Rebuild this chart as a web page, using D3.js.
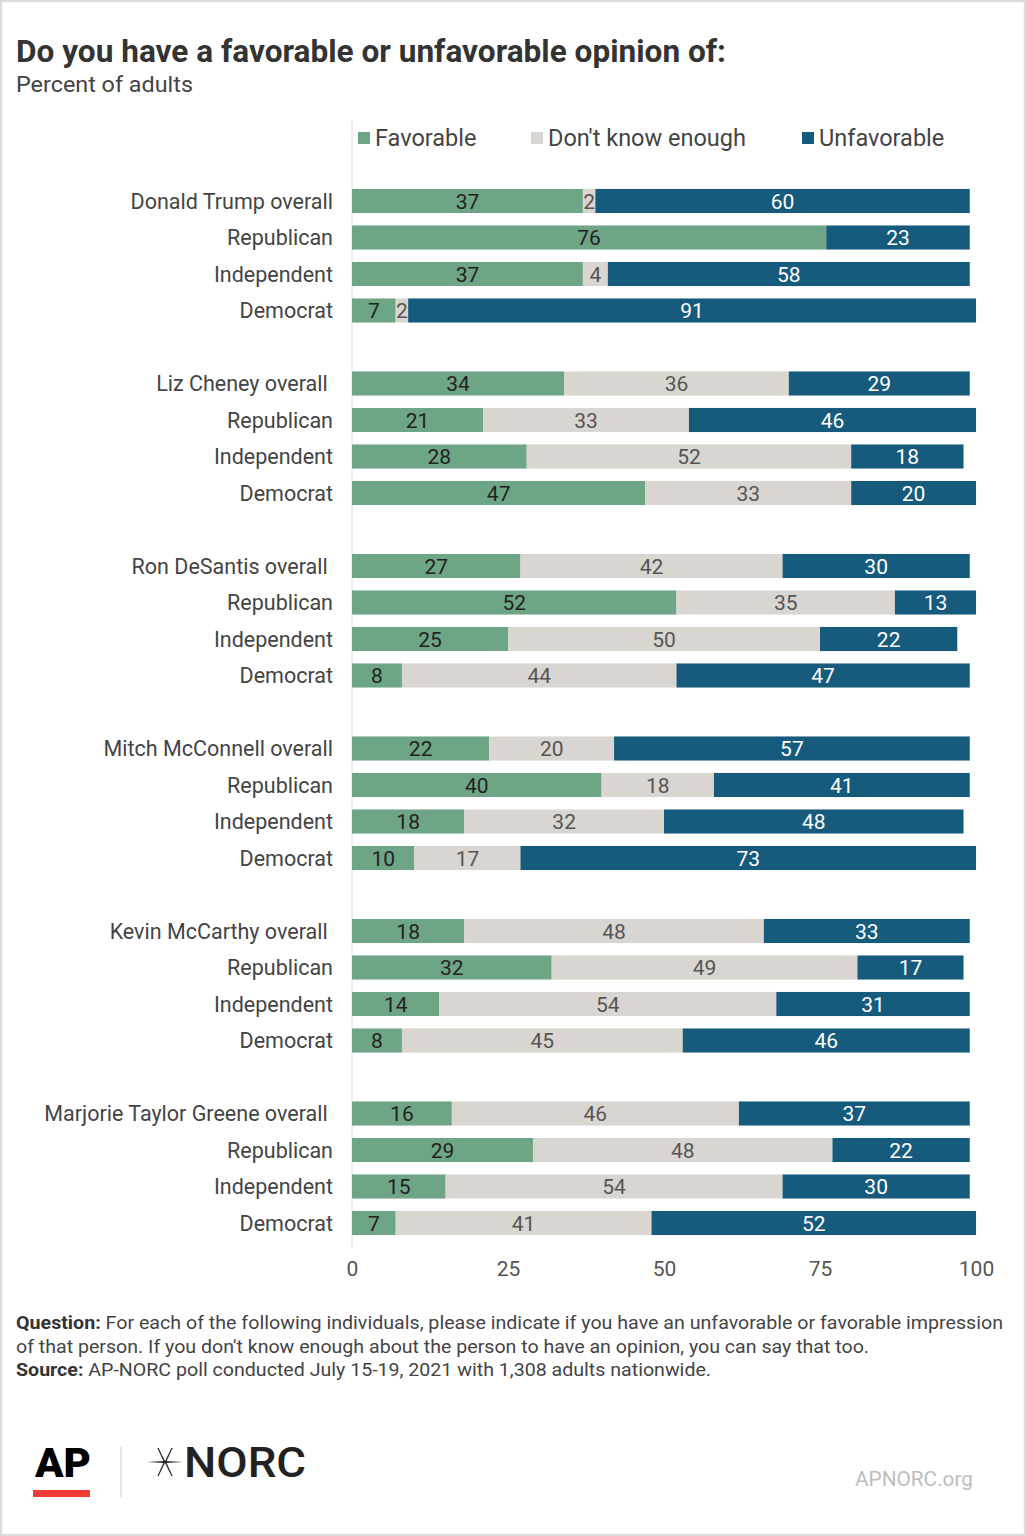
<!DOCTYPE html>
<html><head><meta charset="utf-8">
<script src="https://cdn.jsdelivr.net/npm/d3@7"></script>
<style>
html,body{margin:0;padding:0;background:#fff;}
svg{display:block;font-family:Roboto,"Noto Sans",sans-serif;}
</style></head>
<body>
<svg id="chart" width="1026" height="1536"></svg>
<script>
const people = ["Donald Trump", "Liz Cheney", "Ron DeSantis", "Mitch McConnell", "Kevin McCarthy", "Marjorie Taylor Greene"];
const rowLabels = [
  "Donald Trump overall", "Republican", "Independent", "Democrat",
  "Liz Cheney overall\u00a0", "Republican", "Independent", "Democrat",
  "Ron DeSantis overall\u00a0", "Republican", "Independent", "Democrat",
  "Mitch McConnell overall", "Republican", "Independent", "Democrat",
  "Kevin McCarthy overall\u00a0", "Republican", "Independent", "Democrat",
  "Marjorie Taylor Greene overall\u00a0", "Republican", "Independent", "Democrat"
];
const favorable   = [37,76,37,7, 34,21,28,47, 27,52,25,8, 22,40,18,10, 18,32,14,8, 16,29,15,7];
const dontKnow    = [2,0,4,2,    36,33,52,33, 42,35,50,44, 20,18,32,17, 48,49,54,45, 46,48,54,41];
const unfavorable = [60,23,58,91, 29,46,18,20, 30,13,22,47, 57,41,48,73, 33,17,31,46, 37,22,30,52];
const seriesNames = ["Favorable", "Don't know enough", "Unfavorable"];
const seriesColors = ["#6ea586", "#d9d5d0", "#175b7c"];
const labelColors = ["#222222", "#555555", "#ffffff"];
const xTicks = [0, 25, 50, 75, 100];

const svg = d3.select("#chart");
const W = 1026, H = 1536;

// frame
svg.append("rect").attr("x",1).attr("y",1).attr("width",W-2).attr("height",H-2)
  .attr("fill","#fff").attr("stroke","#dcdcdc").attr("stroke-width",2.5);

// title
svg.append("text").attr("x",16).attr("y",62).attr("font-size",31).attr("font-weight",700)
  .attr("fill","#333").attr("textLength",710).attr("lengthAdjust","spacingAndGlyphs")
  .text("Do you have a favorable or unfavorable opinion of:");
svg.append("text").attr("x",16).attr("y",92).attr("font-size",22).attr("fill","#444")
  .attr("textLength",177).attr("lengthAdjust","spacingAndGlyphs")
  .text("Percent of adults");

// rows with spacers
const ids = [];
const rows = [];
rowLabels.forEach((lab, i) => {
  const g = Math.floor(i / 4);
  if (i > 0 && i % 4 === 0) ids.push("gap" + g);
  const id = "r" + i;
  ids.push(id);
  rows.push({id, label: lab, vals: [favorable[i], dontKnow[i], unfavorable[i]], overall: i % 4 === 0});
});

const x = d3.scaleLinear().domain([0, 100]).range([352, 976]);
const step = 36.5;
const y = d3.scaleBand().domain(ids).range([182.75, 182.75 + ids.length * step])
  .paddingInner(0.34).paddingOuter(0.17);

// zero line
svg.append("line").attr("x1",x(0)).attr("x2",x(0)).attr("y1",120).attr("y2",1248)
  .attr("stroke","#e2e2e2").attr("stroke-width",1.2);

// legend
const legX = [358, 531, 802];
const lg = svg.append("g");
seriesNames.forEach((n, i) => {
  lg.append("rect").attr("x", legX[i]).attr("y", 132).attr("width", 12).attr("height", 12).attr("fill", seriesColors[i]);
  lg.append("text").attr("x", legX[i] + 17).attr("y", 146).attr("font-size", 23.5).attr("fill", "#444").text(n);
});

// stacked bars
const stack = d3.stack().keys([0,1,2]).value((d, k) => d.vals[k]);
const stacked = stack(rows);
const barG = svg.append("g");
stacked.forEach((layer, k) => {
  barG.selectAll(null).data(layer).enter().append("rect")
    .attr("x", d => x(d[0]))
    .attr("y", d => y(d.data.id))
    .attr("width", d => x(d[1]) - x(d[0]))
    .attr("height", y.bandwidth())
    .attr("fill", seriesColors[k]);
  barG.selectAll(null).data(layer.filter(d => d.data.vals[k] > 0)).enter().append("text")
    .attr("x", d => (x(d[0]) + x(d[1])) / 2)
    .attr("y", d => y(d.data.id) + y.bandwidth() / 2 + 7.5)
    .attr("text-anchor", "middle")
    .attr("font-size", 21)
    .attr("fill", labelColors[k])
    .text(d => d.data.vals[k]);
});

// row labels
svg.append("g").selectAll("text").data(rows).enter().append("text")
  .attr("x", 333)
  .attr("y", d => y(d.id) + y.bandwidth() / 2 + 7.5)
  .attr("text-anchor", "end")
  .attr("font-size", 21.5)
  .attr("fill", "#444")
  .style("white-space", "pre")
  .text(d => d.label);

// x axis
const axis = d3.axisBottom(x).tickValues(xTicks).tickSize(0).tickPadding(0);
const ag = svg.append("g").attr("transform", "translate(0,1261)").call(axis);
ag.select(".domain").remove();
ag.selectAll("text").attr("font-size", 21).attr("fill", "#555").attr("font-family", "Roboto, sans-serif").attr("dy", "0.72em");

// footer notes
const f1 = svg.append("text").attr("x",16).attr("y",1329).attr("font-size",18).attr("fill","#444")
  .attr("textLength",987).attr("lengthAdjust","spacingAndGlyphs");
f1.append("tspan").attr("font-weight",700).attr("fill","#333").text("Question:");
f1.append("tspan").text(" For each of the following individuals, please indicate if you have an unfavorable or favorable impression");
svg.append("text").attr("x",16).attr("y",1353).attr("font-size",18).attr("fill","#444")
  .attr("textLength",853).attr("lengthAdjust","spacingAndGlyphs")
  .text("of that person. If you don't know enough about the person to have an opinion, you can say that too.");
const f3 = svg.append("text").attr("x",16).attr("y",1376).attr("font-size",18).attr("fill","#444")
  .attr("textLength",695).attr("lengthAdjust","spacingAndGlyphs");
f3.append("tspan").attr("font-weight",700).attr("fill","#333").text("Source:");
f3.append("tspan").text(" AP-NORC poll conducted July 15-19, 2021 with 1,308 adults nationwide.");

// logos
svg.append("text").attr("x",35).attr("y",1477).attr("font-size",40).attr("font-weight",900)
  .attr("fill","#000").attr("textLength",56).attr("lengthAdjust","spacingAndGlyphs").text("AP");
svg.append("rect").attr("x",33).attr("y",1490).attr("width",57).attr("height",7).attr("fill","#f23a35");
svg.append("line").attr("x1",121).attr("x2",121).attr("y1",1447).attr("y2",1497).attr("stroke","#ddd").attr("stroke-width",1.5);
// star
const sx = 165, sy = 1462;
const star = svg.append("g").attr("fill","#222");
star.append("path").attr("d", `M${sx-18},${sy} L${sx},${sy-1} L${sx+18},${sy} L${sx},${sy+1} Z`);
star.append("path").attr("d", `M${sx-7},${sy-14} L${sx},${sy} L${sx+7},${sy-14} L${sx+0.8},${sy} L${sx+7},${sy+14} L${sx},${sy} L${sx-7},${sy+14} L${sx-0.8},${sy} Z`)
  .attr("stroke","#222").attr("stroke-width",0.9).attr("fill","none");
svg.append("text").attr("x",184).attr("y",1477).attr("font-size",42).attr("font-weight",500)
  .attr("fill","#222").attr("textLength",122).attr("lengthAdjust","spacingAndGlyphs").text("NORC");
svg.append("text").attr("x",855).attr("y",1486).attr("font-size",20).attr("fill","#bdbdbd")
  .attr("textLength",118).attr("lengthAdjust","spacingAndGlyphs").text("APNORC.org");
</script>
</body></html>
